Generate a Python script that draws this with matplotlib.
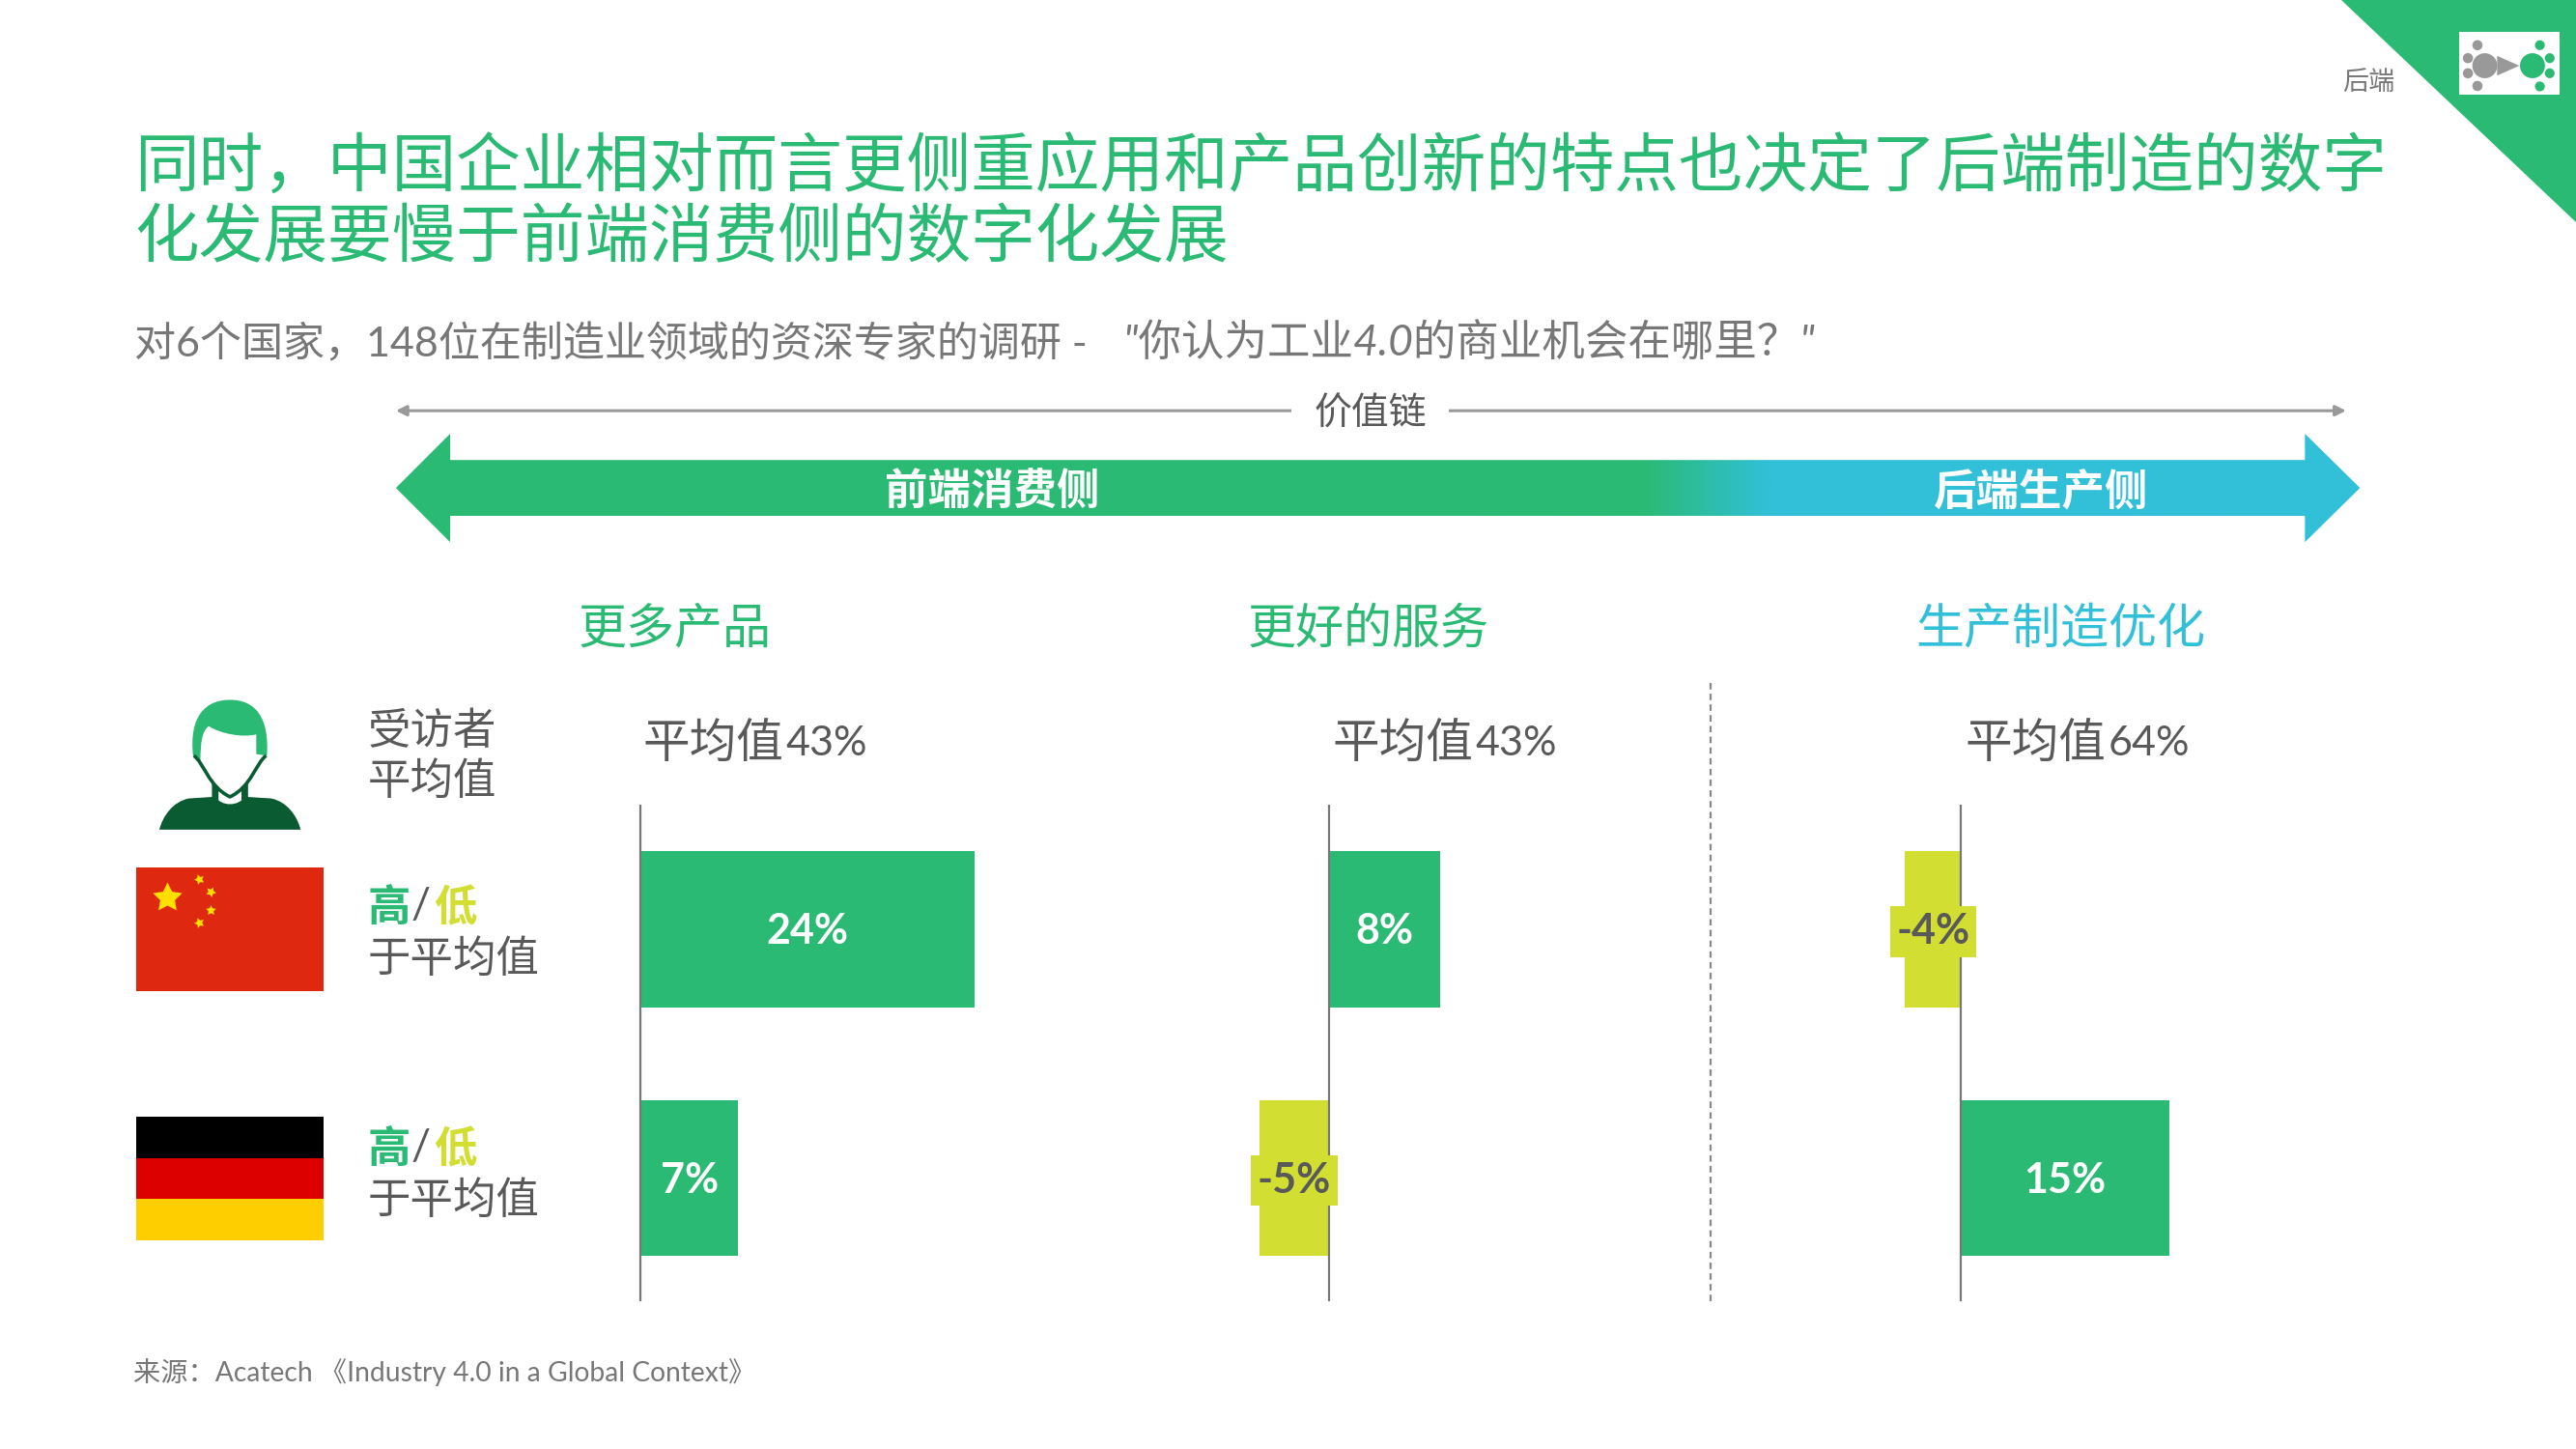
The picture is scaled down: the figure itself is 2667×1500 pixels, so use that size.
#!/usr/bin/env python3
# -*- coding: utf-8 -*-
import numpy as np
import matplotlib
matplotlib.use('Agg')
import matplotlib.pyplot as plt
from matplotlib.colors import LinearSegmentedColormap
from matplotlib.patches import Circle, PathPatch, Polygon, Rectangle
from matplotlib.path import Path

plt.rcParams['font.family'] = ['Lato', 'Noto Sans CJK SC', 'DejaVu Sans']

# ========== data ==========
panel_names = ['更多产品', '更好的服务', '生产制造优化']
avg_values = [43, 43, 64]
china_values = [24, 8, -4]
germany_values = [7, -5, 15]

title_lines = ['同时，中国企业相对而言更侧重应用和产品创新的特点也决定了后端制造的数字',
               '化发展要慢于前端消费侧的数字化发展']
subtitle = '对6个国家，148位在制造业领域的资深专家的调研 - '
subtitle_quote = '"你认为工业4.0的商业机会在哪里？"'
source_text = '来源：Acatech 《Industry 4.0 in a Global Context》'

GREEN = '#2BBA74'
BLUE = '#31C0D8'
YELLOW = '#D2DE32'
DARK = '#0A5A32'
TEXT = '#595959'
GREY = '#999999'

# layout is written in a 1568x882 page, same shape as the 2667x1500 output
PW, PH = 1568, 882
fig = plt.figure(figsize=(26.67, 15.0), dpi=100, facecolor='white')
page = fig.add_axes([0, 0, 1, 1])
page.set_xlim(0, PW)
page.set_ylim(PH, 0)
page.axis('off')

# corner triangle and the small icon
page.add_patch(Polygon([(1425, 0), (PW, 0), (PW, 135)], color=GREEN, lw=0))
page.add_patch(Rectangle((1497, 19.5), 61, 38, color='white', lw=0))
for x, y, r, c in [(1512.5, 40, 7.6, GREY), (1508, 27.5, 3.1, GREY), (1502.2, 35.4, 3.1, GREY),
                   (1502.2, 44.6, 3.1, GREY), (1508, 52.3, 3.1, GREY),
                   (1541.5, 40, 7.6, GREEN), (1546, 27.5, 3.0, GREEN), (1552, 35.4, 3.0, GREEN),
                   (1552, 44.6, 3.0, GREEN), (1546, 52.6, 3.0, GREEN)]:
    page.add_patch(Circle((x, y), r, color=c, lw=0))
page.add_patch(Polygon([(1520, 34), (1533.5, 40), (1520, 46)], color=GREY, lw=0))
page.text(1442, 50, '后端', fontsize=19.5, color='#777777', ha='center', va='center')

# title
page.text(82, 102, title_lines[0], fontsize=48, color=GREEN, va='center')
page.text(82, 145, title_lines[1], fontsize=48, color=GREEN, va='center')
page.text(82, 209, subtitle, fontsize=31, color='#777777', va='center')
page.text(684, 209, subtitle_quote, fontsize=32, color='#777777', va='center', style='italic')

# value chain line
page.annotate('', xy=(241, 250), xytext=(1428, 250),
              arrowprops=dict(arrowstyle='<|-|>', color=GREY, lw=2.2, mutation_scale=16, shrinkA=0, shrinkB=0))
page.text(834, 252, '价值链', fontsize=28, color=TEXT, ha='center', va='center',
          bbox=dict(facecolor='white', edgecolor='none', boxstyle='square,pad=0.6'))

# big two-colour arrow
arrow_pts = [(241, 297), (274, 264), (274, 280), (1403, 280), (1403, 264), (1436.5, 297),
             (1403, 330), (1403, 314), (274, 314), (274, 330)]
arrow_cmap = LinearSegmentedColormap.from_list('arrow', [(0, GREEN), (0.635, GREEN), (0.70, BLUE), (1, BLUE)])
arrow_im = page.imshow(np.linspace(0, 1, 1200).reshape(1, -1), cmap=arrow_cmap, aspect='auto',
                       extent=(241, 1437, 330, 264))
arrow_clip = Polygon(arrow_pts, transform=page.transData, fc='none', ec='none')
page.add_patch(arrow_clip)
arrow_im.set_clip_path(arrow_clip)
page.set_xlim(0, PW)
page.set_ylim(PH, 0)
page.text(604, 299, '前端消费侧', fontsize=32, color='white', weight='bold', ha='center', va='center')
page.text(1242, 299, '后端生产侧', fontsize=32, color='white', weight='bold', ha='center', va='center')

# person icon
hair = Path([(117.5, 460), (115, 436), (125, 426), (140, 426), (155, 426), (164, 436), (162.5, 460),
             (156, 459), (156, 447), (148, 449), (135, 447), (127, 442), (123, 445), (122, 452), (122, 463),
             (117.5, 460)],
            [Path.MOVETO, Path.CURVE4, Path.CURVE4, Path.CURVE4, Path.CURVE4, Path.CURVE4, Path.CURVE4,
             Path.LINETO, Path.LINETO, Path.CURVE4, Path.CURVE4, Path.CURVE4, Path.CURVE4, Path.CURVE4, Path.CURVE4,
             Path.CLOSEPOLY])
page.add_patch(PathPatch(hair, fc=GREEN, ec='none'))
jaw = Path([(118, 460), (124, 464), (127, 479), (140, 485), (153, 479), (156, 464), (162, 460)],
           [Path.MOVETO, Path.CURVE4, Path.CURVE4, Path.CURVE4, Path.CURVE4, Path.CURVE4, Path.CURVE4])
page.add_patch(PathPatch(jaw, fc='none', ec=DARK, lw=2.6))
page.add_patch(Polygon([(129, 476), (133, 480), (133, 487), (129, 486)], color=DARK, lw=0))
page.add_patch(Polygon([(151, 476), (147, 480), (147, 487), (151, 486)], color=DARK, lw=0))
body = Path([(97, 505), (99, 497), (105, 488), (115, 486), (131, 485), (135, 491), (145, 491), (149, 485),
             (165, 486), (175, 488), (181, 497), (183, 505), (97, 505)],
            [Path.MOVETO, Path.CURVE4, Path.CURVE4, Path.CURVE4, Path.LINETO, Path.CURVE4, Path.CURVE4, Path.CURVE4,
             Path.LINETO, Path.CURVE4, Path.CURVE4, Path.CURVE4, Path.CLOSEPOLY])
page.add_patch(PathPatch(body, fc=DARK, ec='none'))

# flags
page.add_patch(Rectangle((83, 528), 114, 75, color='#DE2910', lw=0))
page.plot([102], [546], marker=(5, 1, 0), ms=23, color='#FFDE00', mew=0, ls='none')
for x, y, a in [(121, 535, 20), (128, 543, 45), (128, 554, 0), (121, 561.5, 20)]:
    page.plot([x], [y], marker=(5, 1, a), ms=8, color='#FFDE00', mew=0, ls='none')
for i, c in enumerate(['#000000', '#DD0000', '#FFCE00']):
    page.add_patch(Rectangle((83, 680 + i * 25), 114, 25, color=c, lw=0))

# row labels
page.text(224, 445, '受访者', fontsize=32, color=TEXT, va='center')
page.text(224, 476, '平均值', fontsize=32, color=TEXT, va='center')
for y in [552, 699]:
    page.text(224, y, '高', fontsize=32, color=GREEN, weight='bold', va='center')
    page.text(256, y, '/', fontsize=32, color=TEXT, ha='center', va='center')
    page.text(264, y, '低', fontsize=32, color=YELLOW, weight='bold', va='center')
    page.text(224, y + 32, '于平均值', fontsize=32, color=TEXT, va='center')

# panels
zero_x = [390, 809, 1193.5]
name_x = [411, 833, 1254]
name_colors = [GREEN, GREEN, BLUE]
avg_x = [391, 811, 1196]
px_per_pct = 8.47
row_y = [565.5, 717]
top, bottom = 490, 792
row_step = row_y[1] - row_y[0]

for i, name in enumerate(panel_names):
    page.text(name_x[i], 383, name, fontsize=36, color=name_colors[i], ha='center', va='center')
    page.text(avg_x[i], 453, '平均值', fontsize=35, color=TEXT, va='center')
    page.text(avg_x[i] + 87, 453, f'{avg_values[i]}%', fontsize=31, color=TEXT, va='center')

    left, right = zero_x[i] - 100, zero_x[i] + 250
    ax = fig.add_axes([left / PW, 1 - bottom / PH, (right - left) / PW, (bottom - top) / PH])
    ax.patch.set_alpha(0)
    ax.set_xlim(-100 / px_per_pct, 250 / px_per_pct)
    ax.set_ylim((bottom - row_y[0]) / row_step, (top - row_y[0]) / row_step)
    ax.axis('off')
    vals = [china_values[i], germany_values[i]]
    ax.barh([0, 1], vals, height=95 / row_step, color=[GREEN if v > 0 else YELLOW for v in vals], lw=0)
    ax.axvline(0, color='#777777', lw=1.6, zorder=3)
    for j, v in enumerate(vals):
        if v > 0:
            ax.text(v / 2, j + 0.01, f'{v}%', fontsize=31, color='white', weight='bold', ha='center', va='center', zorder=4)
        else:
            ax.text(v / 2, j + 0.01, f'{v}%', fontsize=31, color=TEXT, weight='bold', ha='center', va='center', zorder=4,
                    bbox=dict(facecolor=YELLOW, edgecolor='none', boxstyle='square,pad=0.15'))

# dashed divider and source
page.plot([1041, 1041], [416, 792], color='#888888', lw=1.6, ls=(0, (3, 2)))
page.text(81, 835, source_text, fontsize=20.3, color='#777777', va='center')

fig.savefig('out.png', dpi=100)
